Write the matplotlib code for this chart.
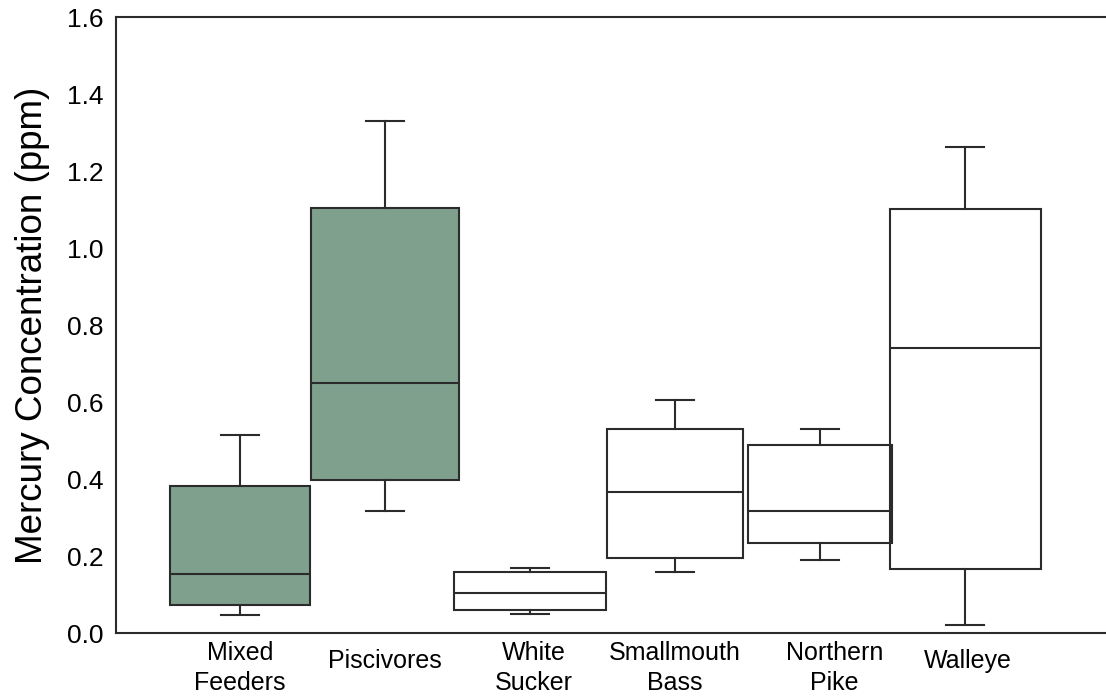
import matplotlib
matplotlib.use('Agg')
import matplotlib.pyplot as plt
from matplotlib.transforms import ScaledTranslation

INK = '#2b2b2b'; GREEN = '#80a08e'
plt.rcParams.update({'font.family': ['Liberation Sans', 'DejaVu Sans'], 'text.color': INK})

species = ['Mixed\nFeeders', 'Piscivores', 'White\nSucker', 'Smallmouth\nBass', 'Northern\nPike', 'Walleye']
whislo = [0.047, 0.317, 0.049, 0.158, 0.190, 0.021]
q1     = [0.073, 0.397, 0.060, 0.195, 0.234, 0.166]
med    = [0.153, 0.649, 0.104, 0.366, 0.317, 0.740]
q3     = [0.382, 1.104, 0.158, 0.530, 0.488, 1.101]
whishi = [0.514, 1.330, 0.169, 0.605, 0.530, 1.262]
filled = [True, True, False, False, False, False]

stats = [dict(whislo=a, q1=b, med=c, q3=d, whishi=e, fliers=[])
         for a, b, c, d, e in zip(whislo, q1, med, q3, whishi)]

fig = plt.figure(figsize=(11.06, 6.98), dpi=100)
ax = fig.add_axes([0.1049, 0.0931, 0.8951, 0.8825])
pos = list(range(len(species)))
box_w = [0.97, 1.02, 1.05, 0.94, 0.99, 1.04]
bp = ax.bxp(stats, positions=pos, widths=box_w, patch_artist=True, showfliers=False,
            capwidths=0.26,
            boxprops=dict(edgecolor=INK, linewidth=1.5),
            medianprops=dict(color=INK, linewidth=1.5),
            whiskerprops=dict(color=INK, linewidth=1.5),
            capprops=dict(color=INK, linewidth=1.5))
for patch, f in zip(bp['boxes'], filled):
    patch.set_facecolor(GREEN if f else 'none')

ax.set_xlim(-0.855, 5.97)
ax.set_ylim(0, 1.6)
ax.set_yticks([0, 0.2, 0.4, 0.6, 0.8, 1.0, 1.2, 1.4, 1.6])
ax.set_yticklabels([f'{v:.1f}' for v in ax.get_yticks()], fontsize=19)
ax.set_xticks(pos)
ax.set_xticklabels(species, fontsize=18, va='center', linespacing=1.3)
ax.tick_params(axis='x', length=0, pad=23)
ax.tick_params(axis='y', length=0, pad=9)
# nudge a couple of labels like the original
for lbl, dx, dy in zip(ax.get_xticklabels(), [0, 0, 4, 0, 14, 3], [-3, 4, -3, -3, -3, 4]):
    lbl.set_transform(lbl.get_transform() + ScaledTranslation(dx / 100, dy / 100, fig.dpi_scale_trans))
ax.set_ylabel('Mercury Concentration (ppm)', fontsize=26.5, labelpad=12)
ax.spines['right'].set_visible(False)
for s in ['left', 'top', 'bottom']:
    ax.spines[s].set_color(INK); ax.spines[s].set_linewidth(1.5)

fig.savefig('out.png', dpi=100)
